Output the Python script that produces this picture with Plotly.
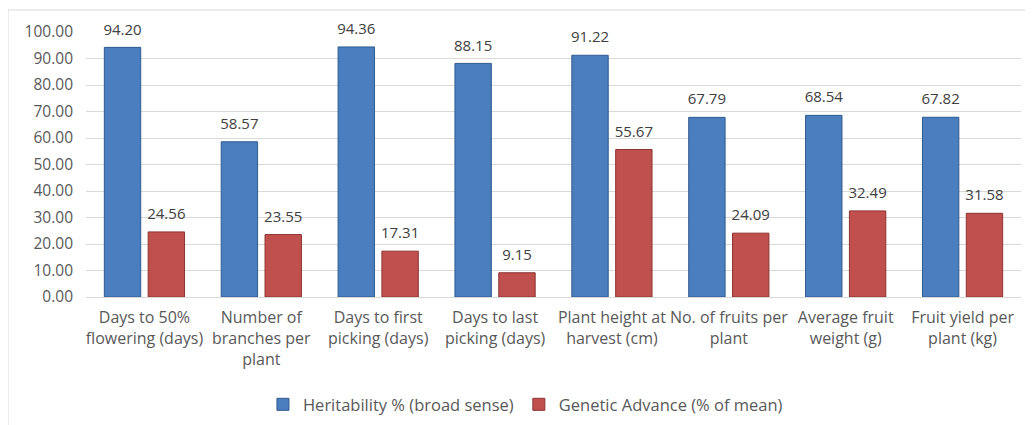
import plotly.graph_objects as go

categories = [
    "Days to 50%<br>flowering (days)",
    "Number of<br>branches per<br>plant",
    "Days to first<br>picking (days)",
    "Days to last<br>picking (days)",
    "Plant height at<br>harvest (cm)",
    "No. of fruits per<br>plant",
    "Average fruit<br>weight (g)",
    "Fruit yield per<br>plant (kg)",
]
heritability = [94.20, 58.57, 94.36, 88.15, 91.22, 67.79, 68.54, 67.82]
genetic_advance = [24.56, 23.55, 17.31, 9.15, 55.67, 24.09, 32.49, 31.58]
y_ticks = [0, 10, 20, 30, 40, 50, 60, 70, 80, 90, 100]

FONT = "Open Sans"
TXT = "#404040"
AX = "#595959"

series = [
    ("Heritability % (broad sense)", heritability, "#4A7EBF", "#2F5A8E"),
    ("Genetic Advance (% of mean)", genetic_advance, "#C0504D", "#8C3331"),
]

fig = go.Figure()
for i, (name, vals, col, edge) in enumerate(series):
    fig.add_trace(go.Bar(
        x=categories, y=vals, name=name, offsetgroup=str(i),
        marker=dict(color=col, line=dict(color=edge, width=1)),
    ))
for i, (name, vals, col, edge) in enumerate(series):
    fig.add_trace(go.Scatter(
        x=categories, y=vals, mode="markers+text", offsetgroup=str(i),
        marker=dict(size=13, opacity=0),
        text=[f"{v:.2f}" for v in vals], textposition="top center",
        textfont=dict(family=FONT, size=15, color=TXT),
        showlegend=False, hoverinfo="skip", cliponaxis=False,
    ))

fig.update_layout(
    width=1025, height=417,
    margin=dict(l=78, r=12, t=24, b=128, autoexpand=False),
    paper_bgcolor="white", plot_bgcolor="white",
    barmode="group", bargap=0.25, bargroupgap=0.17,
    scattermode="group", scattergap=0.25,
    font=dict(family=FONT, size=16, color=AX),
    showlegend=True,
    legend=dict(orientation="h", x=0.470, xanchor="center", y=-0.34, yanchor="top",
                font=dict(family=FONT, size=16.5, color=AX),
                itemwidth=30, traceorder="normal"),
    xaxis=dict(showline=True, linecolor="#D9D9D9", linewidth=1, ticks="",
               automargin=False, ticklabelstandoff=6,
               tickfont=dict(family=FONT, size=16, color=AX)),
    yaxis=dict(range=[0, 100], tickvals=y_ticks, tickformat=".2f",
               showgrid=True, gridcolor="#D9D9D9", gridwidth=1, zeroline=False,
               ticks="", automargin=False, ticklabelstandoff=12,
               tickfont=dict(family=FONT, size=15.5, color=AX)),
    shapes=[
        dict(type="rect", xref="paper", yref="paper",
             x0=-78 / 935, x1=1.1, y0=-0.6, y1=1 + 22 / 265,
             line=dict(color="#D9D9D9", width=1), layer="below"),
    ],
)

fig.write_html("out.html")
